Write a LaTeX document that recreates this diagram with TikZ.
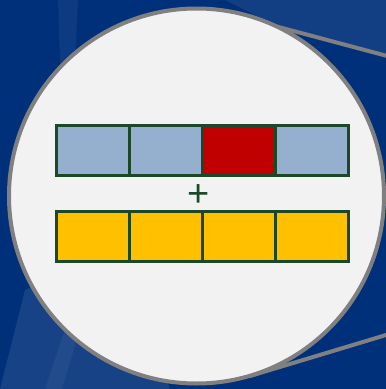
\documentclass[tikz,border=0pt]{standalone}
\usepackage{fontspec}
\setmainfont{Liberation Sans}
\begin{document}
\begin{tikzpicture}[x=1pt,y=-1pt,
  cellbox/.style={draw=cellline,line width=3pt,line join=miter},
  callout/.style={draw=rimgray,line width=4pt}]
\definecolor{bgblue}{RGB}{0,48,122}
\definecolor{rimgray}{RGB}{128,128,128}
\definecolor{discfill}{RGB}{242,242,242}
\definecolor{cellline}{RGB}{28,72,42}
\definecolor{lblue}{RGB}{149,176,207}
\definecolor{cred}{RGB}{192,0,0}
\definecolor{cyellow}{RGB}{255,192,0}
\useasboundingbox (0,0) rectangle (386,389);
% background
\fill[bgblue] (0,0) rectangle (386,389);
\fill[white,opacity=0.05] (58,0) -- (78,0) -- (72,120) -- (62,120) -- cycle;
\fill[white,opacity=0.09] (0,389) -- (25,290) -- (70,270) -- (150,330) -- (170,389) -- cycle;
\fill[white,opacity=0.05] (45,389) -- (80,285) -- (90,295) -- (62,389) -- cycle;
\fill[white,opacity=0.07] (225,0) -- (386,0) -- (386,57) -- (297,32) -- (255,15) -- cycle;
% callout lines
\coordinate (t0) at (250,19.4);
\coordinate (t1) at (400,59.4);
\coordinate (b0) at (250,376);
\coordinate (b1) at (400,330.8);
\draw[callout] (t0) -- (t1);
\draw[callout] (b0) -- (b1);
% disc
\node[circle,fill=discfill,draw=rimgray,line width=4pt,minimum size=375pt,inner sep=0pt] (disc) at (196.5,196) {};
% top row
\foreach \i/\c in {0/lblue,1/lblue,2/cred,3/lblue}{
  \node[cellbox,fill=\c,minimum width=73pt,minimum height=50.5pt,inner sep=0pt,outer sep=0pt,anchor=north west] (top\i) at ({56+73*\i},125) {};
}
\foreach \i in {0,1,2,3}{
  \node[cellbox,fill=cyellow,minimum width=73pt,minimum height=50.5pt,inner sep=0pt,outer sep=0pt,anchor=north west] (bot\i) at ({56+73*\i},211) {};
}
\node[text=cellline,font=\fontsize{38}{38}\selectfont,inner sep=0pt] (plus) at (199,196) {+};
\end{tikzpicture}
\end{document}
